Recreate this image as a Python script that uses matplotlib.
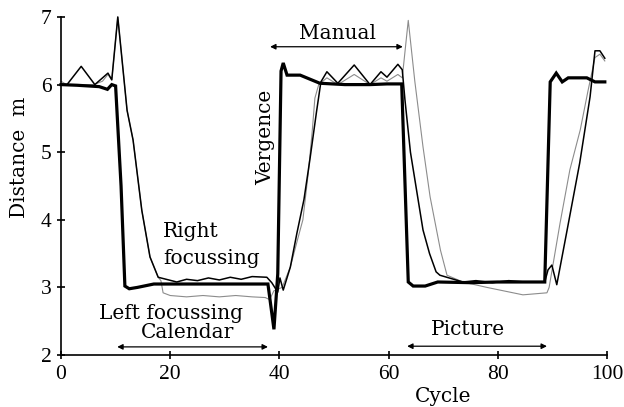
import matplotlib
matplotlib.use("Agg")
import matplotlib.pyplot as plt

plt.rcParams["font.family"] = ["DejaVu Serif"]

# Vergence (thick trace)
verg_x = [0, 3, 7, 8.5, 9.3, 10.0, 11.0, 11.7, 12.5, 14, 17, 25, 30, 37.9,
          39.0, 39.7, 40.3, 40.7, 41.4, 43.8, 47.4, 52, 56.6, 59.7, 62.4,
          63.6, 64.5, 66.7, 69, 75, 80, 85, 88.6, 89.6, 90.7, 91.8, 92.9,
          96.3, 97.8, 99.6]
verg_y = [6.0, 5.99, 5.97, 5.93, 6.0, 5.98, 4.5, 3.02, 2.98, 3.0, 3.05, 3.05,
          3.05, 3.05, 2.38, 3.2, 6.2, 6.32, 6.14, 6.14, 6.02, 6.0, 6.0, 6.01,
          6.01, 3.08, 3.02, 3.02, 3.08, 3.07, 3.08, 3.08, 3.08, 6.04, 6.17,
          6.04, 6.1, 6.1, 6.04, 6.04]

# Right-eye focussing
right_x = [0, 1.1, 3.7, 6.2, 8.6, 9.3, 10.4, 12.1, 13.2, 14.8, 16.3, 17.8,
           21.2, 23, 25, 27, 29, 31, 33, 35, 37.7, 38.6, 39.7, 40.1, 40.7,
           42, 43.2, 44.5, 45.6, 46.8, 47.6, 48.7, 50.7, 53.7, 56.6, 58.6,
           59.7, 61.7, 62.5, 63.0, 64.0, 65.0, 66.3, 67.5, 68.7, 69.4, 73.6,
           76, 79, 82, 85, 88.6, 89.2, 89.9, 90.8, 92.7, 95, 96.9, 97.8,
           98.7, 99.6]
right_y = [6.0, 6.0, 6.27, 6.0, 6.17, 6.07, 7.0, 5.62, 5.18, 4.14, 3.45,
           3.15, 3.08, 3.12, 3.1, 3.14, 3.11, 3.15, 3.12, 3.16, 3.15, 3.07,
           2.93, 3.14, 2.96, 3.3, 3.8, 4.3, 4.9, 5.6, 6.04, 6.19, 6.02, 6.29,
           6.0, 6.19, 6.11, 6.3, 6.22, 5.77, 5.0, 4.5, 3.85, 3.5, 3.23, 3.18,
           3.08, 3.1, 3.07, 3.1, 3.08, 3.08, 3.26, 3.33, 3.04, 3.85, 4.84,
           5.82, 6.5, 6.5, 6.39]

# Left-eye focussing
left_x = [0, 1, 4, 6, 7.6, 8.6, 9.3, 10.4, 12.1, 13.2, 14.8, 16.3, 17.8,
          18.3, 18.7, 20, 23, 26, 29, 32, 35, 37.4, 38.2, 39.0, 40.5, 42,
          43.3, 44.3, 45.3, 46.0, 46.5, 47.2, 48.7, 50.7, 53.7, 56.6, 58.6,
          59.7, 61.7, 62.5, 63.6, 64.8, 66.3, 67.6, 69.5, 70.7, 73.6, 78,
          84.6, 89.0, 89.4, 91.4, 93.2, 95.1, 96.5, 97.8, 98.7, 99.6]
left_y = [6.05, 6.0, 6.0, 6.0, 6.05, 6.15, 6.07, 7.0, 5.62, 5.18, 4.14,
          3.45, 3.15, 3.1, 2.92, 2.88, 2.86, 2.88, 2.86, 2.88, 2.86, 2.85,
          2.82, 2.95, 3.0, 3.3, 3.7, 4.0, 4.7, 5.3, 5.8, 6.0, 6.1, 6.0, 6.15,
          6.0, 6.1, 6.05, 6.15, 6.1, 6.95, 6.05, 5.08, 4.34, 3.55, 3.18, 3.08,
          3.0, 2.89, 2.92, 3.0, 3.95, 4.74, 5.33, 5.9, 6.4, 6.45, 6.35]

x_ticks = [0, 20, 40, 60, 80, 100]
y_ticks = [2, 3, 4, 5, 6, 7]

fig = plt.figure(figsize=(6.24, 4.07), dpi=100)
ax = fig.add_axes([61 / 624, 1 - 355 / 407, 546 / 624, 338 / 407])

ax.plot(left_x, left_y, color="0.55", lw=0.8, clip_on=False)
ax.plot(right_x, right_y, color="black", lw=1.1, clip_on=False)
ax.plot(verg_x, verg_y, color="black", lw=2.3, clip_on=False,
        solid_joinstyle="miter")

ax.set_xlim(0, 100)
ax.set_ylim(2, 7)
ax.set_xticks(x_ticks)
ax.set_yticks(y_ticks)
for s in ("top", "right"):
    ax.spines[s].set_visible(False)
for s in ("left", "bottom"):
    ax.spines[s].set_linewidth(1.2)
ax.tick_params(direction="inout", length=6, width=1.2, pad=4)
for lab in ax.get_xticklabels() + ax.get_yticklabels():
    lab.set_fontfamily("Liberation Serif")
    lab.set_fontsize(15.5)

fs = 14.5
# Annotation arrows
arrow = dict(arrowstyle="<|-|>", color="black", lw=0.9,
             mutation_scale=8, shrinkA=0, shrinkB=0)
ax.annotate("", xy=(38.3, 6.56), xytext=(62.6, 6.56), arrowprops=arrow,
            annotation_clip=False)
ax.annotate("", xy=(10.3, 2.12), xytext=(37.9, 2.12), arrowprops=arrow,
            annotation_clip=False)
ax.annotate("", xy=(63.4, 2.13), xytext=(89.0, 2.13), arrowprops=arrow,
            annotation_clip=False)

ax.text(50.7, 6.76, "Manual", fontsize=fs, ha="center", va="center")
ax.text(37.4, 5.22, "Vergence", fontsize=fs, ha="center", va="center",
        rotation=90)
ax.text(18.7, 3.82, "Right", fontsize=fs, ha="left", va="center")
ax.text(18.7, 3.43, "focussing", fontsize=fs, ha="left", va="center")
ax.text(20.1, 2.62, "Left focussing", fontsize=fs, ha="center", va="center")
ax.text(23.1, 2.33, "Calendar", fontsize=fs, ha="center", va="center")
ax.text(74.5, 2.37, "Picture", fontsize=fs, ha="center", va="center")

fig.text(443 / 624, 1 - 397 / 407, "Cycle", fontsize=fs, ha="center",
         va="center")
fig.text(20 / 624, 1 - 157 / 407, "Distance  m", fontsize=fs, ha="center",
         va="center", rotation=90)

fig.savefig("out.png", dpi=100)
